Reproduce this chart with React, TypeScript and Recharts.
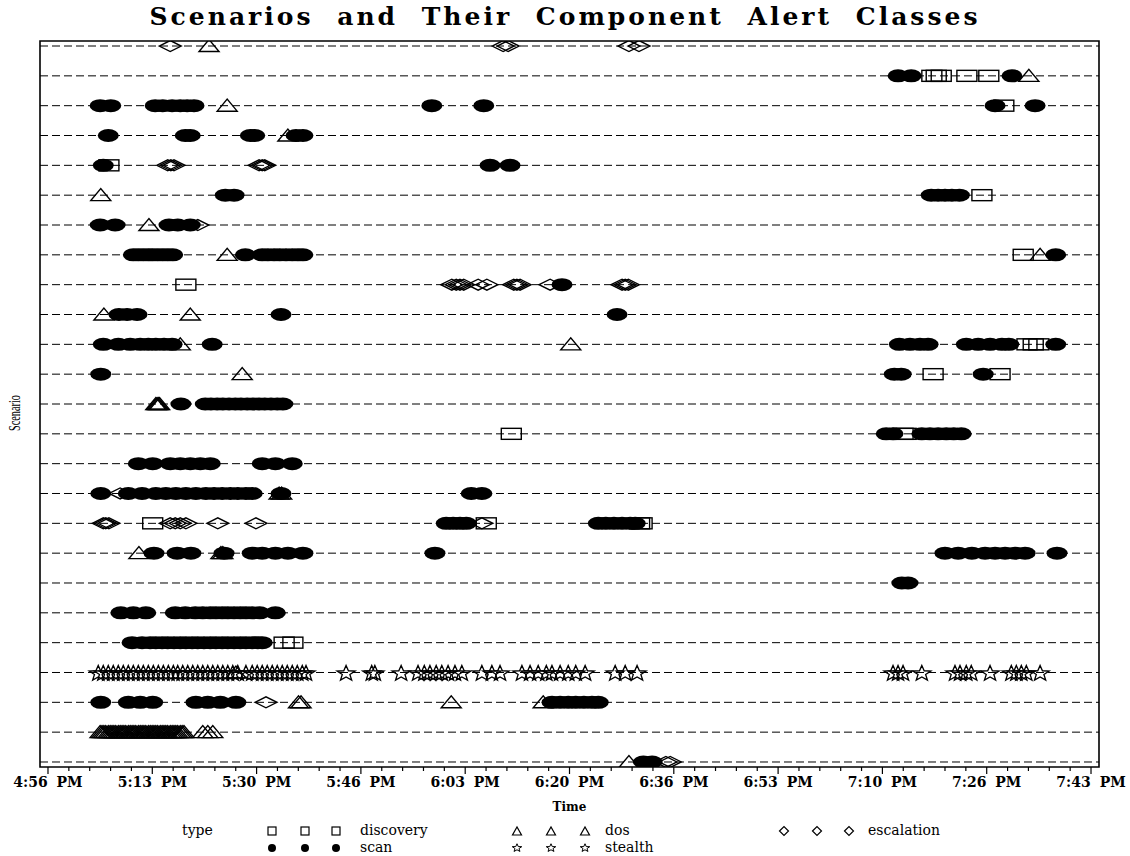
import React from "react";
import { ScatterChart, Scatter, XAxis, YAxis, ReferenceLine, ReferenceArea } from "recharts";

// scenario rows, top to bottom
const scenarios = [1, 2, 3, 4, 5, 6, 7, 8, 9, 10, 11, 12, 13, 14, 15, 16, 17, 18, 19, 20, 21, 22, 23, 24, 25];

const tickLabels = ["4:56 PM", "5:13 PM", "5:30 PM", "5:46 PM", "6:03 PM", "6:20 PM", "6:36 PM", "6:53 PM", "7:10 PM", "7:26 PM", "7:43 PM"];

// alert times in minutes after 5:00 PM, one list per scenario (index 0 = scenario 1)
const scanTimes: number[][] = [
  [],
  [132.5, 134.6, 150.7],
  [5.0, 6.7, 13.8, 15.0, 16.5, 17.8, 18.9, 20.0, 58.0, 66.3, 148.0, 154.4],
  [6.3, 18.6, 19.4, 29.0, 29.7, 36.3, 37.4],
  [5.5, 67.3, 70.5],
  [25.0, 26.4, 137.8, 138.9, 140.0, 141.1, 142.3],
  [5.0, 7.4, 16.0, 17.4, 19.4],
  [10.3, 11.1, 11.9, 12.7, 13.4, 14.2, 15.0, 15.8, 16.6, 28.2, 30.9, 31.8, 32.8, 33.7, 34.7, 35.7, 36.6, 37.4, 157.7],
  [78.8],
  [8.0, 9.3, 10.9, 33.9, 87.6],
  [5.5, 7.9, 9.8, 11.4, 12.7, 13.9, 15.2, 16.5, 22.9, 132.7, 134.4, 136.0, 137.3, 143.4, 145.3, 147.2, 149.1, 150.2, 157.7],
  [5.1, 131.9, 133.0, 146.1],
  [17.9, 21.8, 22.7, 23.7, 24.6, 25.6, 26.6, 27.5, 28.5, 29.4, 30.4, 31.3, 32.3, 33.3, 34.2],
  [130.6, 131.7, 136.3, 137.6, 138.9, 140.2, 141.4, 142.6],
  [11.1, 13.4, 16.2, 17.8, 19.4, 21.0, 22.6, 30.9, 33.0, 35.7],
  [5.1, 9.5, 11.7, 13.9, 15.5, 17.1, 18.7, 20.3, 21.9, 23.2, 24.5, 25.8, 27.0, 28.3, 29.3, 33.9, 64.3, 66.0],
  [60.3, 61.4, 62.5, 63.5, 84.6, 85.8, 87.1, 88.4, 89.7, 90.5],
  [13.6, 17.3, 19.5, 24.8, 29.3, 30.9, 33.0, 35.0, 37.4, 58.5, 140.0, 142.1, 144.3, 146.4, 148.0, 149.6, 151.2, 152.8, 157.9],
  [133.1, 134.1],
  [8.3, 10.3, 12.3, 17.0, 18.6, 20.2, 21.4, 22.6, 23.5, 24.5, 25.4, 26.4, 27.4, 28.3, 29.3, 30.5, 33.0],
  [10.1, 11.7, 13.0, 13.9, 14.9, 15.8, 16.8, 17.8, 18.7, 19.7, 20.6, 21.6, 22.6, 23.5, 24.5, 25.4, 26.4, 27.4, 28.3, 29.3, 30.2, 30.9],
  [],
  [5.1, 9.5, 11.4, 13.4, 20.3, 22.2, 24.2, 26.7, 77.2, 78.5, 79.8, 81.0, 82.3, 83.6, 84.6],
  [],
  [91.8, 93.2],
];

const discoveryTimes: number[][] = [
  [],
  [137.9, 138.6, 139.4, 143.5, 147.0],
  [149.4],
  [],
  [6.4],
  [145.9],
  [],
  [152.5],
  [18.7],
  [],
  [153.1, 154.1, 155.0],
  [138.1, 148.8],
  [],
  [70.7, 133.3, 133.8],
  [],
  [],
  [13.4, 66.7, 91.2, 91.6],
  [],
  [],
  [],
  [34.4, 35.8],
  [],
  [],
  [],
  [],
];

const dosTimes: number[][] = [
  [22.4],
  [153.4],
  [25.3],
  [35.0],
  [],
  [5.1],
  [12.8],
  [25.3, 155.2],
  [],
  [5.6, 19.4],
  [17.8, 80.2],
  [27.7],
  [13.9, 14.1, 14.3, 14.5],
  [],
  [],
  [33.6, 34.0],
  [],
  [11.2, 24.3, 24.6],
  [],
  [],
  [],
  [26.7],
  [36.7, 37.1, 61.1, 75.8],
  [5.0, 5.3, 5.6, 5.9, 6.3, 6.6, 6.9, 7.2, 7.5, 7.9, 8.2, 8.5, 8.8, 9.1, 9.5, 9.8, 10.1, 10.4, 10.7, 11.1, 11.4, 11.7, 12.0, 12.3, 12.7, 13.0, 13.3, 13.6, 13.9, 14.2, 14.6, 14.9, 15.2, 15.5, 15.8, 16.2, 16.5, 16.8, 17.1, 17.4, 17.8, 18.1, 18.4, 21.4, 22.2, 23.0],
  [89.5],
];

const escalationTimes: number[][] = [
  [16.2, 69.4, 70.2, 89.5, 91.1],
  [],
  [],
  [],
  [15.8, 16.3, 16.8, 30.4, 30.9, 31.3],
  [],
  [20.6],
  [],
  [61.2, 61.9, 62.5, 63.1, 65.4, 66.8, 71.1, 71.6, 72.1, 76.9, 88.4, 88.9, 89.4],
  [],
  [],
  [],
  [],
  [],
  [],
  [8.2],
  [5.5, 5.9, 6.4, 16.2, 17.0, 17.8, 18.7, 23.8, 29.9, 66.0],
  [],
  [],
  [],
  [],
  [],
  [31.5],
  [],
  [95.4, 96.1],
];

const stealthTimes: number[][] = [
  [], [], [], [], [], [], [], [], [], [], [], [], [], [], [], [], [], [], [], [], [],
  [4.7, 5.5, 6.3, 7.1, 7.9, 8.7, 9.5, 10.3, 11.1, 11.9, 12.7, 13.5, 14.3, 15.1, 15.9, 16.7, 17.4, 18.2, 19.0, 19.8, 20.6, 21.4, 22.2, 23.0, 23.8, 24.6, 25.4, 26.2, 27.0, 28.3, 29.3, 30.1, 30.9, 31.7, 32.5, 33.3, 34.1, 34.9, 35.7, 36.5, 37.3, 37.9, 44.3, 48.4, 48.9, 53.1, 55.8, 56.8, 57.7, 58.7, 59.6, 60.6, 61.7, 62.8, 66.0, 67.6, 68.9, 72.4, 73.7, 75.0, 76.3, 77.2, 78.5, 79.8, 81.0, 82.5, 87.3, 88.9, 90.8, 131.7, 132.5, 133.3, 136.3, 141.6, 142.4, 143.4, 144.2, 147.2, 150.6, 151.4, 152.2, 153.0, 155.2],
  [], [], [],
];

const toPoints = (rows: number[][]) =>
  rows.flatMap((times, i) => times.map((t) => ({ t, row: scenarios[i] })));

// 200-second minor ticks, labelled every 1000 seconds, starting at 4:56:40 PM
const allTicks = Array.from({ length: 51 }, (_, k) => (-200 + 200 * k) / 60);
const xDomain = [-4.61, 164.61];
const yDomain = [0.832, 25.168];

const serif = "'DejaVu Serif', 'Liberation Serif', serif";

function TimeTick(props: any) {
  const { x, y, payload } = props;
  const k = Math.round((payload.value * 60 + 200) / 200);
  const major = k % 5 === 0;
  return (
    <g>
      <line x1={x} x2={x} y1={y} y2={y + (major ? 7 : 4)} stroke="#000" strokeWidth={1.2} />
      {major && (
        <text x={x} y={y + 20} textAnchor="middle" fontFamily={serif} fontWeight="bold" fontSize={14} wordSpacing={4}>
          {tickLabels[k / 5]}
        </text>
      )}
    </g>
  );
}

const ScanMark = ({ cx, cy }: any) => <ellipse cx={cx} cy={cy} rx={10.5} ry={6.5} fill="#000" />;
const DiscoveryMark = ({ cx, cy }: any) => (
  <rect x={cx - 10} y={cy - 5.5} width={20} height={11} fill="none" stroke="#000" strokeWidth={1.4} />
);
const DosMark = ({ cx, cy }: any) => (
  <polygon points={`${cx - 10},${cy + 5.5} ${cx + 10},${cy + 5.5} ${cx},${cy - 6.5}`} fill="none" stroke="#000" strokeWidth={1.4} />
);
const EscalationMark = ({ cx, cy }: any) => (
  <polygon points={`${cx - 11},${cy} ${cx},${cy - 5.5} ${cx + 11},${cy} ${cx},${cy + 5.5}`} fill="none" stroke="#000" strokeWidth={1.4} />
);
function starPoints(cx: number, cy: number, r: number) {
  const pts: string[] = [];
  for (let i = 0; i < 10; i++) {
    const a = -Math.PI / 2 + (i * Math.PI) / 5;
    const rr = i % 2 === 0 ? r : r * 0.42;
    pts.push(`${cx + rr * Math.cos(a)},${cy + 0.85 * rr * Math.sin(a) + 1}`);
  }
  return pts.join(" ");
}
const StealthMark = ({ cx, cy }: any) => (
  <polygon points={starPoints(cx, cy, 9.5)} fill="none" stroke="#000" strokeWidth={1.3} />
);

export default function App() {
  return (
    <div style={{ position: "absolute", left: 0, top: 0, width: 1130, height: 856, background: "#fff" }}>
      <ScatterChart width={1130} height={856} margin={{ top: 41, right: 31, left: 0, bottom: 0 }}>
        <XAxis
          type="number"
          dataKey="t"
          domain={xDomain}
          allowDataOverflow
          ticks={allTicks}
          interval={0}
          tick={<TimeTick />}
          tickLine={false}
          axisLine={false}
          tickSize={0}
          tickMargin={0}
          height={89}
          label={(p: any) => (
            <text x={p.viewBox.x + p.viewBox.width / 2} y={p.viewBox.y + 44} textAnchor="middle" fontFamily={serif} fontWeight="bold" fontSize={12}>
              Time
            </text>
          )}
        />
        <YAxis
          type="number"
          dataKey="row"
          domain={yDomain}
          allowDataOverflow
          reversed
          width={40}
          tick={false}
          tickLine={false}
          axisLine={false}
          label={(p: any) => (
            <text
              x={20}
              y={p.viewBox.y + p.viewBox.height / 2 + 9}
              textAnchor="middle"
              fontFamily="'Liberation Serif', serif"
              fontSize={17}
              textLength={36}
              lengthAdjust="spacingAndGlyphs"
              transform={`rotate(-90 20 ${p.viewBox.y + p.viewBox.height / 2 + 9})`}
            >
              Scenario
            </text>
          )}
        />
        {scenarios.map((r) => (
          <ReferenceLine key={r} y={r} stroke="#000" strokeWidth={1} strokeDasharray="8 4" />
        ))}
        <Scatter data={toPoints(scanTimes)} shape={ScanMark} isAnimationActive={false} />
        <Scatter data={toPoints(discoveryTimes)} shape={DiscoveryMark} isAnimationActive={false} />
        <Scatter data={toPoints(dosTimes)} shape={DosMark} isAnimationActive={false} />
        <Scatter data={toPoints(escalationTimes)} shape={EscalationMark} isAnimationActive={false} />
        <Scatter data={toPoints(stealthTimes)} shape={StealthMark} isAnimationActive={false} />
        <ReferenceArea
          x1={xDomain[0]}
          x2={xDomain[1]}
          y1={yDomain[0]}
          y2={yDomain[1]}
          fill="none"
          fillOpacity={0}
          stroke="#000"
          strokeWidth={1.6}
          ifOverflow="visible"
        />
      </ScatterChart>

      {/* title and legend */}
      <svg width={1130} height={856} style={{ position: "absolute", left: 0, top: 0, pointerEvents: "none" }}>
        <text
          x={565}
          y={25}
          textAnchor="middle"
          fontFamily={serif}
          fontWeight="bold"
          fontSize={25}
          style={{ letterSpacing: "3px", wordSpacing: "12px" }}
        >
          Scenarios and Their Component Alert Classes
        </text>
        <text x={182} y={835} fontFamily={serif} fontSize={14}>type</text>
        {[272, 305, 336].map((x) => (
          <g key={x}>
            <rect x={x - 4} y={827} width={8} height={8} fill="none" stroke="#000" strokeWidth={1.2} />
            <circle cx={x} cy={848} r={4} fill="#000" />
          </g>
        ))}
        <text x={360} y={835} fontFamily={serif} fontSize={14}>discovery</text>
        <text x={360} y={852} fontFamily={serif} fontSize={14}>scan</text>
        {[517, 551, 585].map((x) => (
          <g key={x}>
            <polygon points={`${x - 4.5},${835} ${x + 4.5},${835} ${x},${827}`} fill="none" stroke="#000" strokeWidth={1.2} />
            <polygon points={starPoints(x, 847, 5)} fill="none" stroke="#000" strokeWidth={1} />
          </g>
        ))}
        <text x={605} y={835} fontFamily={serif} fontSize={14}>dos</text>
        <text x={605} y={852} fontFamily={serif} fontSize={14}>stealth</text>
        {[784, 817, 849].map((x) => (
          <polygon key={x} points={`${x - 4.5},${831} ${x},${826.5} ${x + 4.5},${831} ${x},${835.5}`} fill="none" stroke="#000" strokeWidth={1.2} />
        ))}
        <text x={868} y={835} fontFamily={serif} fontSize={14}>escalation</text>
      </svg>
    </div>
  );
}
